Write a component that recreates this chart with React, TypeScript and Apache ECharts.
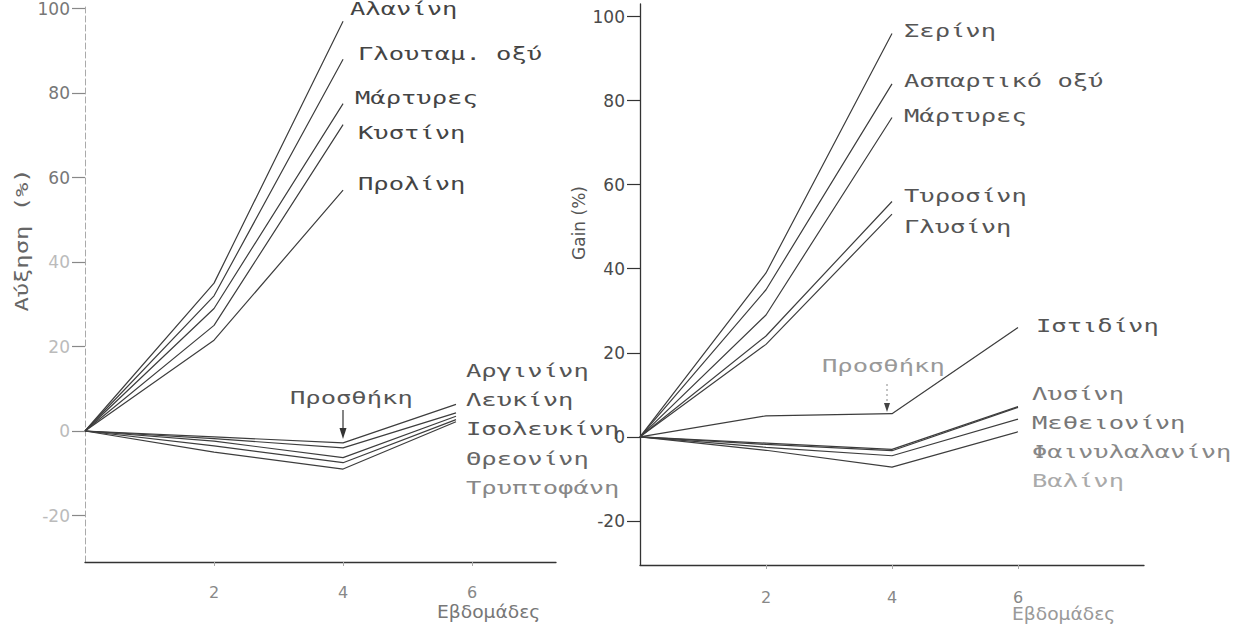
import React, { useEffect, useRef } from "react";
import * as echarts from "echarts";

// ---- data (weeks, % gain) ----
const weeksUpperLeft = [0, 2, 4];
const weeksLowerLeft = [0, 2, 4, 5.75];
const weeksUpperRight = [0, 2, 4];
const weeksLowerRight = [0, 2, 4, 6];

const alanine = [0, 35, 97];
const glutamicAcid = [0, 32, 88];
const controlLeft = [0, 29, 77.5];
const cystine = [0, 25, 72.5];
const proline = [0, 21.5, 57];

const arginine = [0, -1.4, -2.8, 6.3];
const leucine = [0, -1.8, -4, 4.3];
const isoleucine = [0, -2.4, -6.3, 3.5];
const threonine = [0, -3.5, -7.5, 2.7];
const tryptophan = [0, -5, -9, 2.2];

const serine = [0, 39, 96];
const asparticAcid = [0, 35, 84];
const controlRight = [0, 29, 76];
const tyrosine = [0, 24, 56];
const glycine = [0, 22, 53];

const histidine = [0, 5, 5.5, 26];
const lysine = [0, -1.5, -3, 7.2];
const methionine = [0, -1.8, -3.3, 7];
const phenylalanine = [0, -2.5, -4.5, 4.2];
const valine = [0, -3.2, -7.2, 1.2];

const yTicks = [-20, 0, 20, 40, 60, 80, 100];
const xTicks = [2, 4, 6];

const leftSeries = [
  { name: "Αλανίνη", w: weeksUpperLeft, v: alanine },
  { name: "Γλουταμ. οξύ", w: weeksUpperLeft, v: glutamicAcid },
  { name: "Μάρτυρες", w: weeksUpperLeft, v: controlLeft },
  { name: "Κυστίνη", w: weeksUpperLeft, v: cystine },
  { name: "Προλίνη", w: weeksUpperLeft, v: proline },
  { name: "Αργινίνη", w: weeksLowerLeft, v: arginine },
  { name: "Λευκίνη", w: weeksLowerLeft, v: leucine },
  { name: "Ισολευκίνη", w: weeksLowerLeft, v: isoleucine },
  { name: "Θρεονίνη", w: weeksLowerLeft, v: threonine },
  { name: "Τρυπτοφάνη", w: weeksLowerLeft, v: tryptophan },
];
const rightSeries = [
  { name: "Σερίνη", w: weeksUpperRight, v: serine },
  { name: "Ασπαρτικό οξύ", w: weeksUpperRight, v: asparticAcid },
  { name: "Μάρτυρες ", w: weeksUpperRight, v: controlRight },
  { name: "Τυροσίνη", w: weeksUpperRight, v: tyrosine },
  { name: "Γλυσίνη", w: weeksUpperRight, v: glycine },
  { name: "Ιστιδίνη", w: weeksLowerRight, v: histidine },
  { name: "Λυσίνη", w: weeksLowerRight, v: lysine },
  { name: "Μεθειονίνη", w: weeksLowerRight, v: methionine },
  { name: "Φαινυλαλανίνη", w: weeksLowerRight, v: phenylalanine },
  { name: "Βαλίνη", w: weeksLowerRight, v: valine },
];

// annotation text placement (layout only): text, x, y, colour
const leftLabels: [string, number, number, string][] = [
  ["Αλανίνη", 350, 9, "#444"],
  ["Γλουταμ. οξύ", 358, 54, "#444"],
  ["Μάρτυρες", 355, 98, "#444"],
  ["Κυστίνη", 358, 133, "#444"],
  ["Προλίνη", 358, 184, "#444"],
  ["Προσθήκη", 290, 398, "#555"],
  ["Αργινίνη", 466, 371, "#555"],
  ["Λευκίνη", 466, 400, "#555"],
  ["Ισολευκίνη", 466, 429, "#555"],
  ["Θρεονίνη", 466, 459, "#666"],
  ["Τρυπτοφάνη", 466, 488, "#888"],
];
const rightLabels: [string, number, number, string][] = [
  ["Σερίνη", 904, 31, "#555"],
  ["Ασπαρτικό οξύ", 904, 81, "#555"],
  ["Μάρτυρες", 904, 116, "#555"],
  ["Τυροσίνη", 904, 196, "#555"],
  ["Γλυσίνη", 904, 227, "#555"],
  ["Ιστιδίνη", 1036, 326, "#555"],
  ["Προσθήκη", 822, 366, "#999"],
  ["Λυσίνη", 1032, 394, "#777"],
  ["Μεθειονίνη", 1032, 423, "#777"],
  ["Φαινυλαλανίνη", 1032, 452, "#888"],
  ["Βαλίνη", 1032, 481, "#aaa"],
];

const MONO = "'DejaVu Sans Mono', 'Liberation Mono', monospace";
const INK = "#3d3d3d";

export default function App() {
  const ref = useRef<HTMLDivElement>(null);
  useEffect(() => {
    if (!ref.current) return;
    const chart = echarts.init(ref.current, undefined, { renderer: "svg" });

    const mkSeries = (list: any[], idx: number) =>
      list.map((s) => ({
        name: s.name,
        type: "line",
        xAxisIndex: idx,
        yAxisIndex: idx,
        symbol: "none",
        clip: true,
        lineStyle: { color: INK, width: 1.2 },
        data: s.w.map((w: number, i: number) => [w, s.v[i]]),
      }));

    const textEl = (t: string, x: number, y: number, color: string) => ({
      type: "text",
      x,
      y,
      scaleX: 1.5,
      style: {
        text: t,
        fill: color,
        font: `17px ${MONO}`,
        verticalAlign: "middle",
        align: "left",
      },
    });

    const yCommon = (idx: number, faint: boolean) => ({
      gridIndex: idx,
      type: "value",
      splitLine: { show: false },
      axisLine: {
        show: true,
        lineStyle: faint
          ? { color: "#aaa", width: 1, type: [6, 3] }
          : { color: "#333", width: 1.3 },
      },
      axisTick: {
        show: true,
        customValues: yTicks,
        length: 13,
        lineStyle: { color: faint ? "#888" : "#333", width: 1.2 },
      },
      axisLabel: {
        customValues: yTicks,
        color: faint
          ? (v: number) => (v >= 60 ? "#777" : "#bbb")
          : "#4a4a4a",
        fontSize: 17,
        fontFamily: "'DejaVu Sans', sans-serif",
        margin: 15,
      },
    });

    const xCommon = (idx: number, max: number, margin: number) => ({
      gridIndex: idx,
      type: "value",
      min: 0,
      max,
      splitLine: { show: false },
      axisLine: { show: true, onZero: false, lineStyle: { color: "#333", width: 1.3 } },
      axisTick: {
        show: true,
        customValues: xTicks,
        length: 4,
        lineStyle: { color: "#aaa", width: 1 },
      },
      axisLabel: {
        customValues: xTicks,
        color: "#888",
        fontSize: 16,
        fontFamily: "'DejaVu Sans', sans-serif",
        margin,
      },
    });

    const graphics: any[] = [];
    leftLabels.forEach(([t, x, y, c]) => graphics.push(textEl(t, x, y, c)));
    rightLabels.forEach(([t, x, y, c]) => graphics.push(textEl(t, x, y, c)));
    graphics.push({
      type: "text",
      x: 437,
      y: 612,
      scaleX: 1.1,
      style: { text: "Εβδομάδες", fill: "#777", font: "17px 'DejaVu Sans', sans-serif", verticalAlign: "middle" },
    });
    graphics.push({
      type: "text",
      x: 1012,
      y: 614,
      scaleX: 1.1,
      style: { text: "Εβδομάδες", fill: "#999", font: "17px 'DejaVu Sans', sans-serif", verticalAlign: "middle" },
    });
    graphics.push({
      type: "text",
      x: 22,
      y: 240,
      rotation: Math.PI / 2,
      scaleX: 1.4,
      style: {
        text: "Αύξηση (%)",
        fill: "#666",
        font: `17px ${MONO}`,
        align: "center",
        verticalAlign: "middle",
      },
    });
    graphics.push({
      type: "text",
      x: 579,
      y: 223,
      rotation: Math.PI / 2,
      style: {
        text: "Gain (%)",
        fill: "#555",
        font: "17px 'DejaVu Sans', sans-serif",
        align: "center",
        verticalAlign: "middle",
      },
    });
    // arrows "Προσθήκη"
    graphics.push({
      type: "line",
      shape: { x1: 343, y1: 410, x2: 343, y2: 432 },
      style: { stroke: "#333", lineWidth: 1.2 },
    });
    graphics.push({
      type: "polygon",
      shape: { points: [[339.5, 428], [346.5, 428], [343, 439]] },
      style: { fill: "#333" },
    });
    graphics.push({
      type: "line",
      shape: { x1: 887, y1: 384, x2: 887, y2: 405 },
      style: { stroke: "#888", lineWidth: 1, lineDash: [2, 3] },
    });
    graphics.push({
      type: "polygon",
      shape: { points: [[884, 403], [890, 403], [887, 412]] },
      style: { fill: "#444" },
    });

    chart.setOption({
      animation: false,
      backgroundColor: "#fff",
      grid: [
        { left: 85, top: 1, width: 471, height: 561 },
        { left: 640, top: 4, width: 504, height: 561 },
      ],
      xAxis: [xCommon(0, 7.3, 22), xCommon(1, 8, 24)],
      yAxis: [
        { ...yCommon(0, true), min: -31, max: 101 },
        { ...yCommon(1, false), min: -30.5, max: 103 },
      ],
      series: [...mkSeries(leftSeries, 0), ...mkSeries(rightSeries, 1)],
      graphic: graphics,
    });
    return () => chart.dispose();
  }, []);
  return (
    <div
      ref={ref}
      style={{ position: "absolute", left: 0, top: 0, width: 1238, height: 630 }}
    />
  );
}
